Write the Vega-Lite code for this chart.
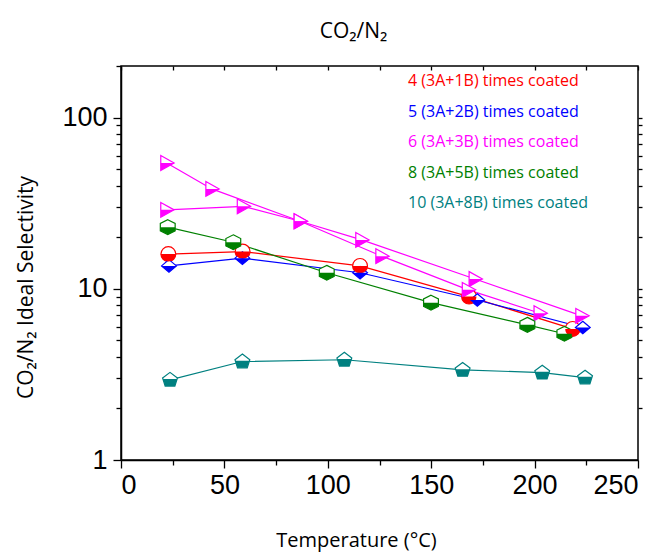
{
  "$schema": "https://vega.github.io/schema/vega-lite/v6.json",
  "width": 517,
  "height": 394,
  "autosize": {"type": "none"},
  "padding": {"left": 121, "top": 66, "right": 27, "bottom": 95},
  "background": "white",
  "config": {
    "view": {"stroke": "black", "strokeWidth": 1.5},
    "axis": {"grid": false, "domainColor": "black", "tickColor": "black", "labelColor": "black", "titleColor": "black", "tickWidth": 1.3, "domainWidth": 1.5, "labelFont": "Liberation Sans", "labelFontSize": 27, "titleFont": "Open Sans", "titleFontSize": 20, "titleFontWeight": "normal"}
  },
  "title": {"text": "CO₂/N₂", "font": "Open Sans", "fontSize": 21, "fontWeight": "normal", "color": "black", "anchor": "middle", "frame": "group", "dx": -26, "offset": 23},
  "data": {"values": [
    {"s": "4 (3A+1B) times coated", "T": 22.9, "v": 15.95},
    {"s": "4 (3A+1B) times coated", "T": 58.8, "v": 16.5},
    {"s": "4 (3A+1B) times coated", "T": 115.6, "v": 13.6},
    {"s": "4 (3A+1B) times coated", "T": 168.3, "v": 9.0},
    {"s": "4 (3A+1B) times coated", "T": 218.4, "v": 5.83},
    {"s": "5 (3A+2B) times coated", "T": 23.2, "v": 13.6},
    {"s": "5 (3A+2B) times coated", "T": 58.7, "v": 15.1},
    {"s": "5 (3A+2B) times coated", "T": 115.6, "v": 12.4},
    {"s": "5 (3A+2B) times coated", "T": 172.3, "v": 8.6},
    {"s": "5 (3A+2B) times coated", "T": 223.3, "v": 5.94},
    {"s": "6 (3A+3B) times coated", "T": 22.1, "v": 28.9},
    {"s": "6 (3A+3B) times coated", "T": 59.1, "v": 30.3},
    {"s": "6 (3A+3B) times coated", "T": 86.6, "v": 24.8},
    {"s": "6 (3A+3B) times coated", "T": 116.4, "v": 19.3},
    {"s": "6 (3A+3B) times coated", "T": 171.2, "v": 11.4},
    {"s": "6 (3A+3B) times coated", "T": 222.8, "v": 6.95},
    {"s": "6b", "T": 22.1, "v": 54.3},
    {"s": "6b", "T": 43.9, "v": 38.3},
    {"s": "6b", "T": 86.6, "v": 24.8},
    {"s": "6b", "T": 126.1, "v": 15.5},
    {"s": "6b", "T": 167.9, "v": 9.86},
    {"s": "6b", "T": 202.6, "v": 7.2},
    {"s": "8 (3A+5B) times coated", "T": 22.6, "v": 22.9},
    {"s": "8 (3A+5B) times coated", "T": 54.3, "v": 18.7},
    {"s": "8 (3A+5B) times coated", "T": 99.5, "v": 12.4},
    {"s": "8 (3A+5B) times coated", "T": 149.9, "v": 8.3},
    {"s": "8 (3A+5B) times coated", "T": 196.5, "v": 6.16},
    {"s": "8 (3A+5B) times coated", "T": 214.4, "v": 5.46},
    {"s": "10 (3A+8B) times coated", "T": 23.7, "v": 2.94},
    {"s": "10 (3A+8B) times coated", "T": 58.7, "v": 3.76},
    {"s": "10 (3A+8B) times coated", "T": 108.0, "v": 3.85},
    {"s": "10 (3A+8B) times coated", "T": 165.2, "v": 3.36},
    {"s": "10 (3A+8B) times coated", "T": 203.7, "v": 3.24},
    {"s": "10 (3A+8B) times coated", "T": 224.4, "v": 3.03}
  ]},
  "layer": [
    {
      "mark": {"type": "line", "strokeWidth": 1.2},
      "encoding": {
        "x": {"field": "T", "type": "quantitative", "scale": {"domain": [0, 250], "nice": false, "zero": false},
              "axis": {"orient": "bottom", "values": [0, 50, 100, 150, 200, 250], "tickSize": 8, "labelPadding": 4, "title": "Temperature (°C)", "titleX": 235, "titleY": 80, "titleBaseline": "middle", "titleAnchor": "middle"}},
        "y": {"field": "v", "type": "quantitative", "scale": {"type": "log", "domain": [1, 200], "nice": false},
              "axis": {"orient": "left", "values": [1, 10, 100], "format": "d", "tickSize": 8, "labelPadding": 6, "title": "CO₂/N₂ Ideal Selectivity", "titleX": -95, "titleY": 221, "titleAngle": 270, "titleAlign": "center", "titleBaseline": "middle", "titleFontSize": 21, "titleFont": "Open Sans, Noto Sans, DejaVu Sans"}},
        "color": {"field": "s", "type": "nominal",
                  "scale": {"domain": ["4 (3A+1B) times coated", "5 (3A+2B) times coated", "6 (3A+3B) times coated", "8 (3A+5B) times coated", "10 (3A+8B) times coated", "6b"],
                            "range": ["#FF0000", "#0000FF", "#FF00FF", "#008000", "#008080", "#FF00FF"]},
                  "legend": {"values": ["4 (3A+1B) times coated", "5 (3A+2B) times coated", "6 (3A+3B) times coated", "8 (3A+5B) times coated", "10 (3A+8B) times coated"],
                             "title": null, "orient": "none", "legendX": 271, "legendY": 7,
                             "symbolSize": 0, "symbolStrokeWidth": 0, "symbolOpacity": 0, "symbolOffset": 0, "labelOffset": 0,
                             "labelFont": "Open Sans", "labelFontSize": 16, "rowPadding": 14.5, "labelLimit": 300,
                             "encode": {"labels": {"update": {"fill": {"scale": "color", "field": "value"}}}}}}
      }
    },
    {
      "mark": {"type": "point", "filled": true, "fill": "white", "strokeWidth": 1.2, "opacity": 1},
      "encoding": {
        "x": {"field": "T", "type": "quantitative", "axis": {"orient": "bottom", "values": [25, 75, 125, 175, 225], "tickSize": 5, "labels": false, "domain": false, "title": null}},
        "y": {"field": "v", "type": "quantitative", "axis": {"orient": "left", "values": [2, 3, 4, 5, 6, 7, 8, 9, 20, 30, 40, 50, 60, 70, 80, 90, 200], "tickSize": 5, "labels": false, "domain": false, "title": null}},
        "stroke": {"field": "s", "type": "nominal", "legend": null,
                   "scale": {"domain": ["4 (3A+1B) times coated", "5 (3A+2B) times coated", "6 (3A+3B) times coated", "8 (3A+5B) times coated", "10 (3A+8B) times coated", "6b"],
                             "range": ["#FF0000", "#0000FF", "#FF00FF", "#008000", "#008080", "#FF00FF"]}},
        "shape": {"field": "s", "type": "nominal", "legend": null,
                  "scale": {"domain": ["4 (3A+1B) times coated", "5 (3A+2B) times coated", "6 (3A+3B) times coated", "8 (3A+5B) times coated", "10 (3A+8B) times coated", "6b"],
                            "range": ["M-1,0 A1,1 0 1,1 1,0 A1,1 0 1,1 -1,0 Z", "M0,-0.85 L1,0 L0,0.85 L-1,0 Z", "M-0.8,-1 L1,0 L-0.8,1 Z", "M0,-1 L1,-0.5 L1,0.5 L0,1 L-1,0.5 L-1,-0.5 Z", "M0,-1 L1,-0.25 L0.65,0.85 L-0.65,0.85 L-1,-0.25 Z", "M-0.8,-1 L1,0 L-0.8,1 Z"]}},
        "size": {"value": 220}
      }
    },
    {
      "mark": {"type": "point", "filled": true, "strokeWidth": 0, "opacity": 1},
      "encoding": {
        "x": {"field": "T", "type": "quantitative", "axis": {"orient": "top", "values": [0, 25, 50, 75, 100, 125, 150, 175, 200, 225, 250], "tickSize": -4, "labels": false, "domain": false, "title": null}},
        "y": {"field": "v", "type": "quantitative", "axis": {"orient": "right", "values": [2, 3, 4, 5, 6, 7, 8, 9, 10, 20, 30, 40, 50, 60, 70, 80, 90, 100], "tickSize": 4, "labels": false, "domain": false, "title": null}},
        "fill": {"field": "s", "type": "nominal", "legend": null,
                 "scale": {"domain": ["4 (3A+1B) times coated", "5 (3A+2B) times coated", "6 (3A+3B) times coated", "8 (3A+5B) times coated", "10 (3A+8B) times coated", "6b"],
                           "range": ["#FF0000", "#0000FF", "#FF00FF", "#008000", "#008080", "#FF00FF"]}},
        "shape": {"field": "s", "type": "nominal", "legend": null,
                  "scale": {"domain": ["4 (3A+1B) times coated", "5 (3A+2B) times coated", "6 (3A+3B) times coated", "8 (3A+5B) times coated", "10 (3A+8B) times coated", "6b"],
                            "range": ["M-1,0 L1,0 A1,1 0 0,1 -1,0 Z", "M-1,0 L1,0 L0,0.85 Z", "M-0.8,0 L1,0 L-0.8,1 Z", "M-1,0 L1,0 L1,0.5 L0,1 L-1,0.5 Z", "M-0.952,-0.1 L0.952,-0.1 L0.65,0.85 L-0.65,0.85 Z", "M-0.8,0 L1,0 L-0.8,1 Z"]}},
        "size": {"value": 220}
      }
    }
  ],
  "resolve": {"scale": {"shape": "independent"}, "axis": {"x": "independent", "y": "independent"}}
}
